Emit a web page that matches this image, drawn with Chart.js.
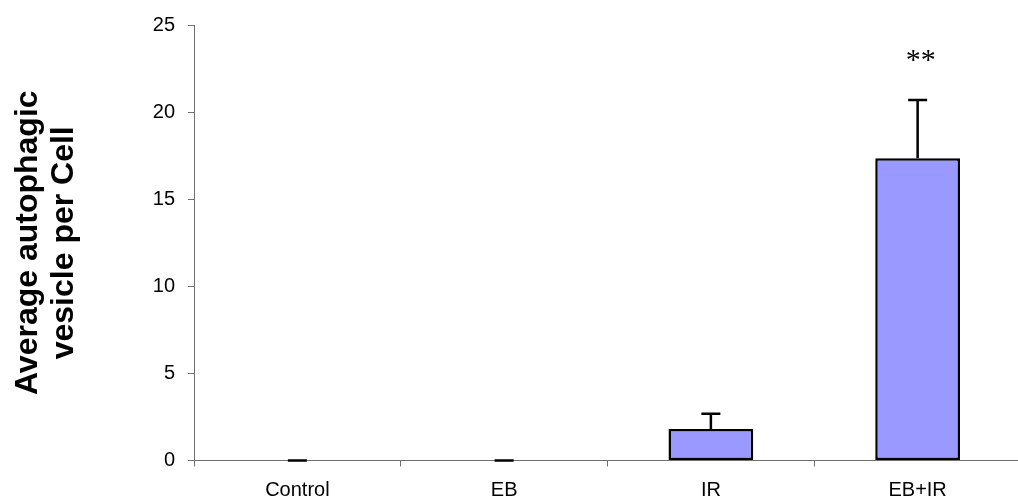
<!DOCTYPE html>
<html>
<head>
<meta charset="utf-8">
<script src="https://cdn.jsdelivr.net/npm/chart.js"></script>
<style>
    html, body { margin: 0; padding: 0; background: #fff; overflow: hidden; }
    #grafica { display: block; }
</style>
</head>
<body>
<canvas id="grafica" width="1022" height="504"></canvas>
<script>
// Datos
const categorias = ['Control', 'EB', 'IR', 'EB+IR'];
const promedios = [0, 0, 1.81, 17.35];
const errores = [0, 0, 0.88, 3.35];
const marcas = ['', '', '', '**'];
const ticksY = [0, 5, 10, 15, 20, 25];
const tituloY = ['Average autophagic', 'vesicle per Cell'];

const gris = '#707070';

// Barras de error y asteriscos
const barrasError = {
    id: 'barrasError',
    afterDatasetsDraw(chart) {
        const ctx = chart.ctx;
        const x = chart.scales.x;
        const y = chart.scales.y;
        ctx.save();
        ctx.strokeStyle = '#000';
        ctx.fillStyle = '#000';
        ctx.lineWidth = 2.5;
        promedios.forEach((m, i) => {
            const cx = x.getPixelForValue(i);
            const y0 = y.getPixelForValue(m);
            const y1 = y.getPixelForValue(m + errores[i]);
            ctx.beginPath();
            ctx.moveTo(cx, y0);
            ctx.lineTo(cx, y1);
            ctx.moveTo(cx - 9.5, y1);
            ctx.lineTo(cx + 9.5, y1);
            ctx.stroke();
            if (marcas[i]) {
                ctx.font = '30px "Liberation Serif"';
                ctx.textAlign = 'center';
                ctx.textBaseline = 'middle';
                ctx.fillText(marcas[i], cx + 3, y1 - 39);
            }
        });
        ctx.restore();
    }
};

// Titulo del eje Y en dos lineas, girado
const tituloEje = {
    id: 'tituloEje',
    afterDraw(chart) {
        const ctx = chart.ctx;
        const area = chart.chartArea;
        const cy = (area.top + area.bottom) / 2;
        ctx.save();
        ctx.font = 'bold 32px "Liberation Sans"';
        ctx.fillStyle = '#000';
        ctx.textAlign = 'center';
        ctx.textBaseline = 'alphabetic';
        const bases = [37, 73];
        tituloY.forEach((t, i) => {
            ctx.save();
            ctx.translate(bases[i], cy);
            ctx.rotate(-Math.PI / 2);
            ctx.fillText(t, 0, 0);
            ctx.restore();
        });
        ctx.restore();
    }
};

const ctx = document.getElementById('grafica');
const grafica = new Chart(ctx, {
    type: 'bar',
    data: {
        labels: categorias,
        datasets: [{
            data: promedios,
            backgroundColor: '#9999ff',
            borderColor: '#000',
            borderWidth: 2.5,
            borderSkipped: false,
            categoryPercentage: 1,
            barPercentage: 0.41
        }]
    },
    options: {
        responsive: false,
        animation: false,
        layout: {
            padding: { top: 17.5, right: 1, left: 0, bottom: 0 }
        },
        plugins: {
            legend: { display: false },
            tooltip: { enabled: false }
        },
        scales: {
            x: {
                offset: true,
                grid: {
                    offset: true,
                    drawOnChartArea: false,
                    tickLength: 6,
                    color: gris
                },
                border: { color: gris, width: 1 },
                ticks: {
                    color: '#000',
                    padding: 12,
                    font: { family: 'Liberation Sans', size: 20 }
                },
                afterFit: function(scale) {
                    scale.height = 43.5;
                }
            },
            y: {
                min: 0,
                max: 25,
                afterBuildTicks: function(scale) {
                    scale.ticks = ticksY.map(v => ({ value: v }));
                },
                grid: {
                    drawOnChartArea: false,
                    tickLength: 6,
                    color: gris
                },
                border: { color: gris, width: 1 },
                ticks: {
                    color: '#000',
                    padding: 13,
                    font: { family: 'Liberation Sans', size: 20 }
                },
                afterFit: function(scale) {
                    scale.width = 194;
                }
            }
        }
    },
    plugins: [barrasError, tituloEje]
});
</script>
</body>
</html>
